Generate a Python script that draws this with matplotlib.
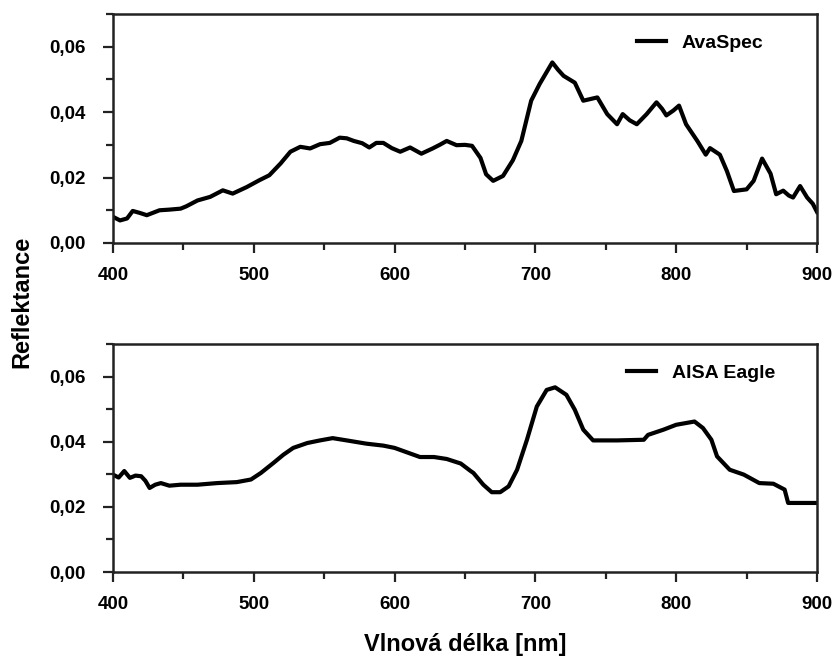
import matplotlib
matplotlib.use("Agg")
import matplotlib.pyplot as plt
from matplotlib.ticker import MultipleLocator, FuncFormatter

plt.rcParams['font.family'] = ['Liberation Sans', 'DejaVu Sans']
plt.rcParams['font.weight'] = 'bold'

# AvaSpec spectrum (wavelength nm, reflectance)
ava_wl = [400, 405, 410, 414, 419, 424, 433, 440, 448, 452, 460, 469, 478, 485, 495,
          504, 511, 519, 526, 533, 540, 547, 554, 561, 566, 571, 577, 582, 587, 592,
          598, 604, 611, 619, 627, 632, 637, 644, 650, 655, 661, 665, 670, 677, 684,
          690, 697, 703, 712, 716, 720, 728, 734, 739, 744, 751, 758, 762, 767, 772,
          779, 786, 790, 793, 798, 802, 807, 815, 821, 824, 831, 836, 841, 850, 855,
          861, 867, 871, 876, 880, 883, 888, 893, 897, 900]
ava_refl = [0.0080, 0.0069, 0.0075, 0.0098, 0.0092, 0.0085, 0.0100, 0.0102, 0.0105, 0.0112,
            0.0130, 0.0141, 0.0161, 0.0151, 0.0171, 0.0192, 0.0207, 0.0243, 0.0279, 0.0294,
            0.0289, 0.0302, 0.0306, 0.0322, 0.0320, 0.0312, 0.0305, 0.0292, 0.0306, 0.0306,
            0.0290, 0.0279, 0.0292, 0.0273, 0.0289, 0.0300, 0.0312, 0.0299, 0.0300, 0.0297,
            0.0260, 0.0210, 0.0190, 0.0205, 0.0253, 0.0312, 0.0435, 0.0486, 0.0552, 0.0530,
            0.0511, 0.0490, 0.0435, 0.0440, 0.0445, 0.0394, 0.0363, 0.0394, 0.0375, 0.0363,
            0.0394, 0.0430, 0.0410, 0.0390, 0.0405, 0.0420, 0.0363, 0.0312, 0.0270, 0.0290,
            0.0270, 0.0220, 0.0159, 0.0164, 0.0190, 0.0258, 0.0212, 0.0149, 0.0160, 0.0145,
            0.0139, 0.0174, 0.0139, 0.0120, 0.0095]

# AISA Eagle spectrum
aisa_wl = [400, 404, 408, 412, 416, 420, 423, 426, 430, 434, 440, 448, 460, 474, 488,
           498, 505, 514, 521, 528, 538, 547, 556, 566, 580, 592, 600, 609, 618, 628,
           637, 647, 654, 656, 663, 669, 675, 681, 687, 694, 701, 708, 714, 722, 728,
           734, 741, 758, 777, 780, 791, 800, 813, 819, 825, 829, 838, 848, 859, 869,
           877, 879.5, 900]
aisa_refl = [0.0299, 0.0290, 0.0310, 0.0289, 0.0296, 0.0294, 0.0280, 0.0258, 0.0268, 0.0273,
             0.0265, 0.0268, 0.0268, 0.0273, 0.0276, 0.0284, 0.0304, 0.0335, 0.0360, 0.0381,
             0.0396, 0.0404, 0.0411, 0.0404, 0.0394, 0.0388, 0.0381, 0.0367, 0.0353, 0.0353,
             0.0347, 0.0333, 0.0310, 0.0304, 0.0268, 0.0245, 0.0245, 0.0263, 0.0314, 0.0406,
             0.0508, 0.0559, 0.0567, 0.0544, 0.0498, 0.0437, 0.0404, 0.0404, 0.0406, 0.0421,
             0.0437, 0.0452, 0.0462, 0.0442, 0.0406, 0.0355, 0.0314, 0.0299, 0.0273, 0.0271,
             0.0253, 0.0212, 0.0212]

x_ticks = [400, 500, 600, 700, 800, 900]
y_ticks = [0.00, 0.02, 0.04, 0.06]

fig = plt.figure(figsize=(8.34, 6.62), dpi=100)
ax1 = fig.add_axes([113/834, 1 - 243/662, 704/834, 229/662])
ax2 = fig.add_axes([113/834, 1 - 572/662, 704/834, 228/662])

fmt = FuncFormatter(lambda v, p: f"{v:.2f}".replace('.', ','))

for ax, wl, refl, name, lx in [(ax1, ava_wl, ava_refl, 'AvaSpec', 0.744),
                               (ax2, aisa_wl, aisa_refl, 'AISA Eagle', 0.730)]:
    ax.plot(wl, refl, color='black', lw=3.0, label=name, solid_joinstyle='round')
    ax.set_xlim(400, 900)
    ax.set_ylim(0, 0.07)
    ax.set_xticks(x_ticks)
    ax.xaxis.set_minor_locator(MultipleLocator(50))
    ax.set_yticks(y_ticks)
    ax.yaxis.set_minor_locator(MultipleLocator(0.01))
    ax.yaxis.set_major_formatter(fmt)
    ax.tick_params(which='major', direction='out', length=7, width=1.6,
                   labelsize=13.5, color='#222222')
    ax.tick_params(axis='y', which='major', pad=13)
    ax.tick_params(axis='x', which='major', pad=10)
    ax.tick_params(which='minor', direction='out', length=5, width=1.6, color='#222222')
    for lab in ax.get_xticklabels() + ax.get_yticklabels():
        lab.set_fontweight('bold')
    for sp in ax.spines.values():
        sp.set_linewidth(1.8)
        sp.set_color('#222222')
    leg = ax.legend(loc='center left', bbox_to_anchor=(lx, 0.873), frameon=False,
                    borderpad=0, borderaxespad=0, handlelength=1.5, handletextpad=0.8,
                    prop={'weight': 'bold', 'size': 14})

fig.text(465/834, 1 - 644/662, 'Vlnová délka [nm]', ha='center', va='center',
         fontsize=17, fontweight='bold')
fig.text(22/834, 1 - 302/662, 'Reflektance', ha='center', va='center',
         rotation=90, fontsize=17, fontweight='bold')

fig.savefig('out.png', dpi=100)
